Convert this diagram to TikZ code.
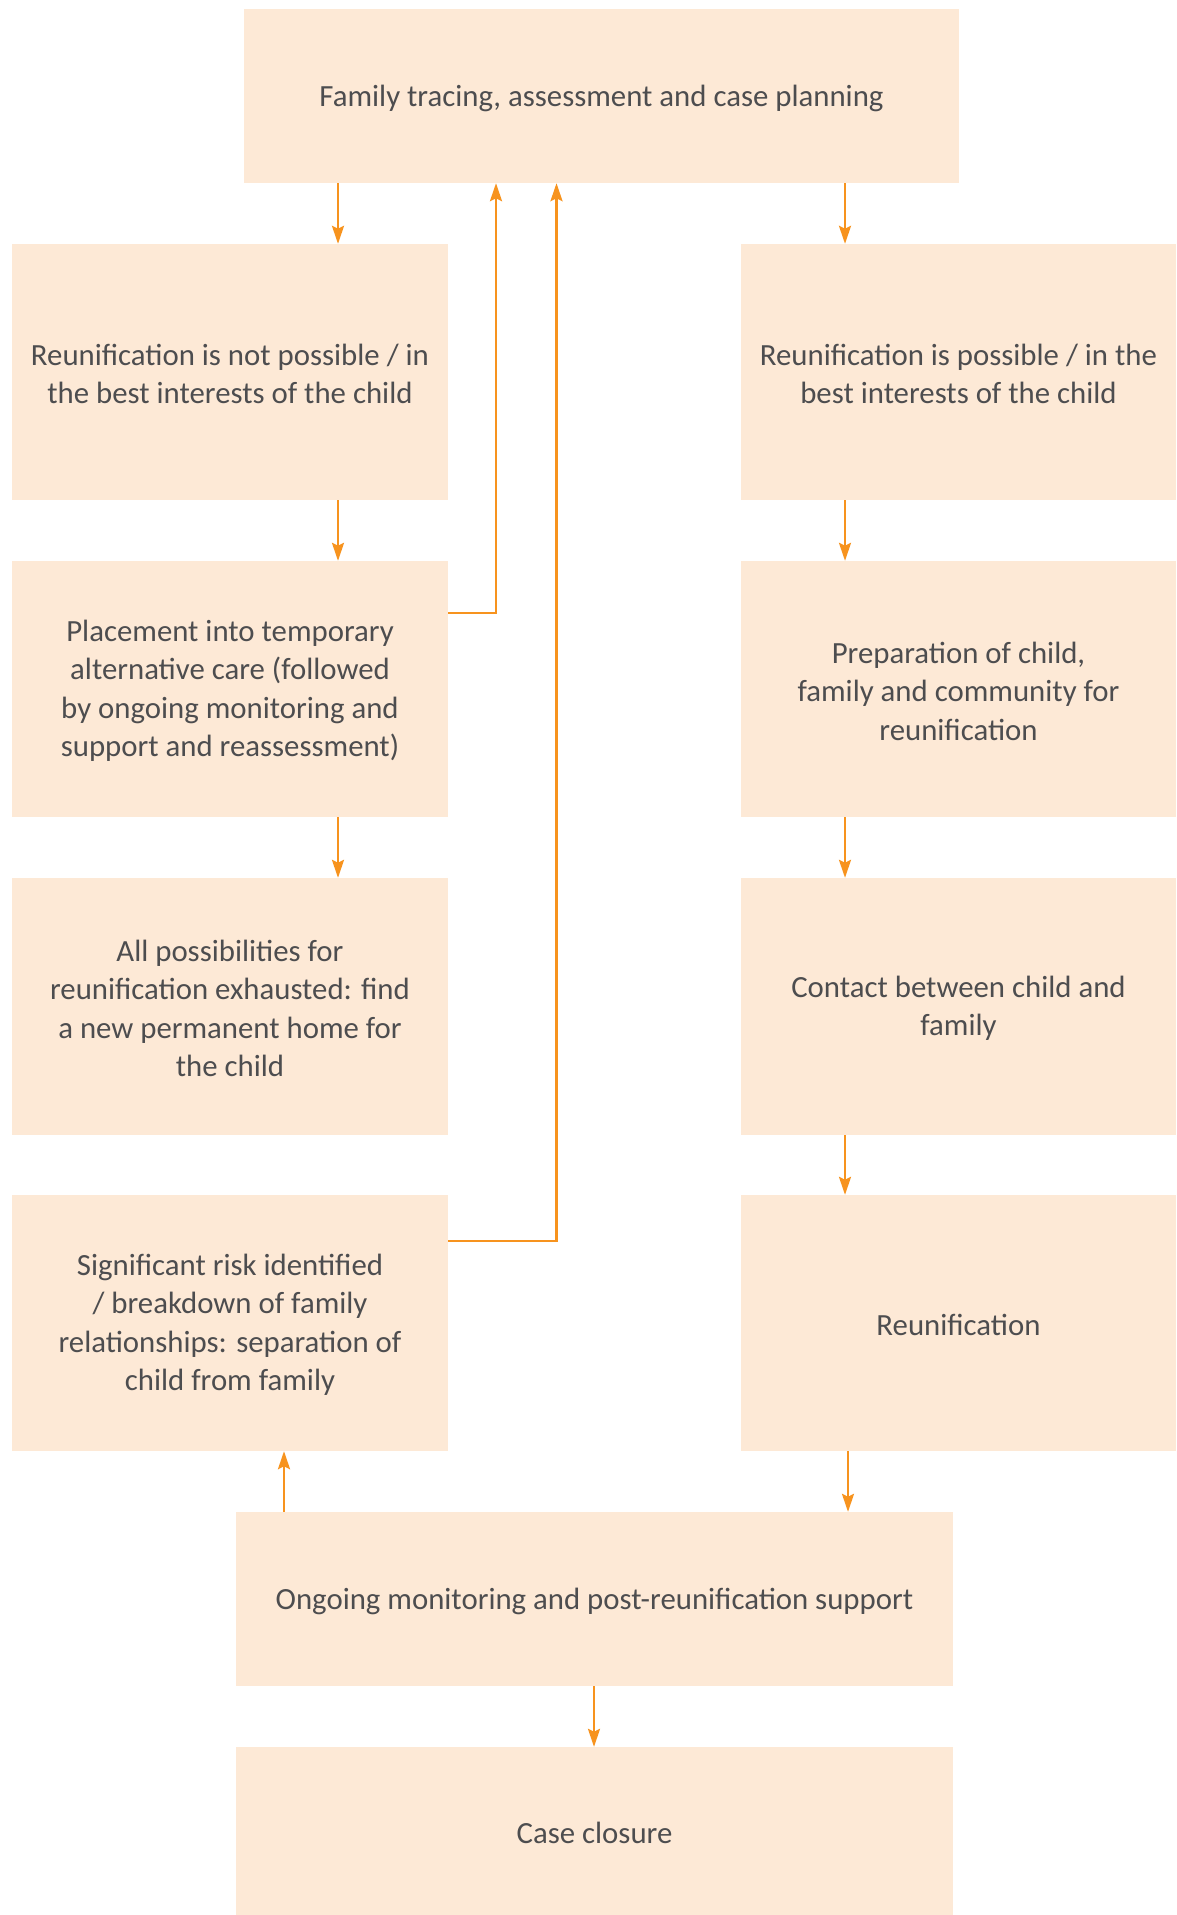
\documentclass[tikz,border=0pt]{standalone}
\usepackage{fontspec}
\setmainfont{Carlito}
\usetikzlibrary{arrows.meta}
\definecolor{boxfill}{HTML}{FDE9D6}
\definecolor{arr}{HTML}{F7931E}
\definecolor{txt}{HTML}{4D4D4F}
\begin{document}
\begin{tikzpicture}[x=1pt,y=-1pt,
  flowbox/.style={fill=boxfill,draw=none,text=txt,align=center,inner sep=0pt,
    font=\fontsize{30.8}{38.5}\selectfont},
  flowarrow/.style={draw=arr,line width=2.6pt,-{Stealth[length=18pt,width=12pt,inset=3pt]}},
  txtshift/.style={yshift=-2pt}]
\useasboundingbox (0,0) rectangle (1176,1915);
\fill[white] (0,0) rectangle (1176,1915);

% boxes
\node[flowbox,minimum width=715pt,minimum height=174pt] (top) at (601.5,96) {};
\node[flowbox,minimum width=436pt,minimum height=256pt] (l1) at (230,372) {};
\node[flowbox,minimum width=436pt,minimum height=256pt] (l2) at (230,689) {};
\node[flowbox,minimum width=436pt,minimum height=257pt] (l3) at (230,1006.5) {};
\node[flowbox,minimum width=436pt,minimum height=256pt] (l4) at (230,1323) {};
\node[flowbox,minimum width=435pt,minimum height=256pt] (r1) at (958.5,372) {};
\node[flowbox,minimum width=435pt,minimum height=256pt] (r2) at (958.5,689) {};
\node[flowbox,minimum width=435pt,minimum height=257pt] (r3) at (958.5,1006.5) {};
\node[flowbox,minimum width=435pt,minimum height=256pt] (r4) at (958.5,1323) {};
\node[flowbox,minimum width=717pt,minimum height=174pt] (ong) at (594.5,1599) {};
\node[flowbox,minimum width=717pt,minimum height=168pt] (close) at (594.5,1831) {};

% texts
\node[flowbox,fill=none,txtshift] (ttop) at (top.center) {Family tracing, assessment and case planning};
\node[flowbox,fill=none,txtshift] (tl1) at (l1.center) {Reunification is not possible / in\\the best interests of the child};
\node[flowbox,fill=none,txtshift] (tl2) at (l2.center) {Placement into temporary\\alternative care (followed\\by ongoing monitoring and\\support and reassessment)};
\node[flowbox,fill=none,txtshift] (tl3) at (l3.center) {All possibilities for\\reunification exhausted: find\\a new permanent home for\\the child};
\node[flowbox,fill=none,txtshift] (tl4) at (l4.center) {Significant risk identified\\/ breakdown of family\\relationships: separation of\\child from family};
\node[flowbox,fill=none,txtshift] (tr1) at (r1.center) {Reunification is possible / in the\\best interests of the child};
\node[flowbox,fill=none,txtshift] (tr2) at (r2.center) {Preparation of child,\\family and community for\\reunification};
\node[flowbox,fill=none,txtshift] (tr3) at (r3.center) {Contact between child and\\family};
\node[flowbox,fill=none,txtshift] (tr4) at (r4.center) {Reunification};
\node[flowbox,fill=none,txtshift] (tong) at (ong.center) {Ongoing monitoring and post-reunification support};
\node[flowbox,fill=none,txtshift] (tclose) at (close.center) {Case closure};

% coordinates for elbows
\coordinate (e1) at (496,613);
\coordinate (e2) at (556.5,1241);

% down arrows
\draw[flowarrow] (top.south -| 338,0) -- (l1.north -| 338,0);
\draw[flowarrow] (top.south -| 845,0) -- (r1.north -| 845,0);
\draw[flowarrow] (l1.south -| 338,0) -- (l2.north -| 338,0);
\draw[flowarrow] (l2.south -| 338,0) -- (l3.north -| 338,0);
\draw[flowarrow] (r1.south -| 845,0) -- (r2.north -| 845,0);
\draw[flowarrow] (r2.south -| 845,0) -- (r3.north -| 845,0);
\draw[flowarrow] (r3.south -| 845,0) -- (r4.north -| 845,0);
\draw[flowarrow] (r4.south -| 848,0) -- (ong.north -| 848,0);
\draw[flowarrow] (ong.south -| 594,0) -- (close.north -| 594,0);
% up arrows
\draw[flowarrow] (ong.north -| 284,0) -- (l4.south -| 284,0);
\draw[flowarrow] (l2.east |- e1) -- (e1) -- (top.south -| e1);
\draw[flowarrow] (l4.east |- e2) -- (e2) -- (top.south -| e2);
\end{tikzpicture}
\end{document}
